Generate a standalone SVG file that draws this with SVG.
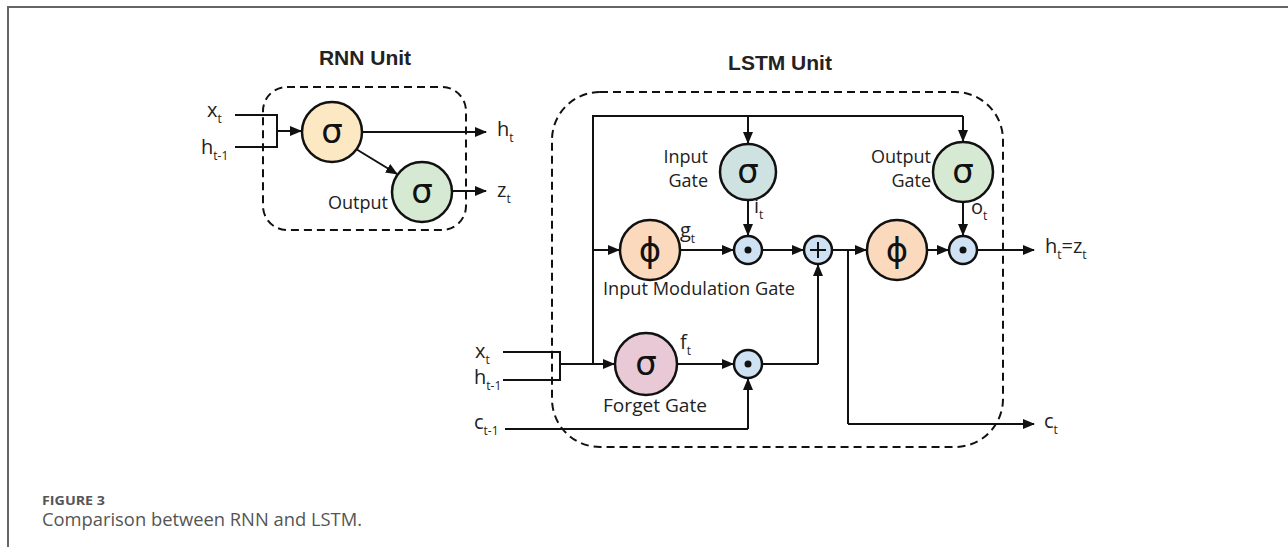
<svg xmlns="http://www.w3.org/2000/svg" width="1288" height="547" viewBox="0 0 1288 547">
<defs>
<marker id="ah" markerWidth="12" markerHeight="10" refX="11" refY="5" orient="auto" markerUnits="userSpaceOnUse">
<path d="M0,0 L12,5 L0,10 Z" fill="#111"/>
</marker>
<style>
.ln{fill:none;stroke:#111;stroke-width:2}
.ar{fill:none;stroke:#111;stroke-width:2;marker-end:url(#ah)}
.dash{fill:none;stroke:#111;stroke-width:2;stroke-dasharray:8 5}
.nd{stroke:#111;stroke-width:2.5}
.t{font-family:"Open Sans","DejaVu Sans",sans-serif;fill:#222;font-size:18px}
.v{font-family:"Open Sans","DejaVu Sans",sans-serif;fill:#222;font-size:20px}
.sb{font-size:12px}
.sym{font-family:"DejaVu Sans",sans-serif;fill:#111;font-size:34px;text-anchor:middle}
.ttl{font-family:"Liberation Sans",Arial,sans-serif;font-weight:bold;font-size:21px;fill:#222;text-anchor:middle}
</style>
</defs>
<rect width="1288" height="547" fill="#fff"/>
<path d="M8,547 V7 H1288" fill="none" stroke="#666" stroke-width="2"/>

<text class="ttl" x="365" y="65">RNN Unit</text>
<text class="ttl" x="780" y="70">LSTM Unit</text>

<g id="frames">
<rect class="dash" x="263" y="87" width="203" height="143" rx="24"/>
<rect class="dash" x="552" y="92" width="451" height="355" rx="48"/>
</g>

<g id="connectors">
<!-- RNN -->
<path class="ln" d="M235,115 H277 V147 H235"/>
<path class="ar" d="M277,131 H301"/>
<path class="ar" d="M362,132 H486"/>
<path class="ar" d="M356,149 L397,174"/>
<path class="ar" d="M452,191 H486"/>
<!-- LSTM -->
<path class="ln" d="M503,352 H560 V380 H503"/>
<path class="ar" d="M560,364 H614"/>
<path class="ln" d="M593,364 V116 H963"/>
<path class="ar" d="M963,116 V141"/>
<path class="ar" d="M748,116 V143"/>
<path class="ar" d="M593,250 H619"/>
<path class="ar" d="M680,250 H733"/>
<path class="ar" d="M748,200 V235"/>
<path class="ar" d="M762,250 H803"/>
<path class="ar" d="M832,250 H866"/>
<path class="ln" d="M848,250 V424"/>
<path class="ar" d="M848,424 H1034"/>
<path class="ar" d="M927,250 H948"/>
<path class="ar" d="M963,202 V235"/>
<path class="ar" d="M977,250 H1034"/>
<path class="ar" d="M677,364 H733"/>
<path class="ln" d="M762,364 H818"/>
<path class="ar" d="M818,364 V265"/>
<path class="ln" d="M505,429 H748"/>
<path class="ar" d="M748,429 V379"/>
</g>

<g id="rnn-sigma">
<circle class="nd" cx="332" cy="132" r="30" fill="#fde8c4"/>
<text class="sym" x="332" y="143">σ</text>
</g>
<g id="rnn-output">
<circle class="nd" cx="422" cy="192" r="30" fill="#d6e9d2"/>
<text class="sym" x="422" y="203">σ</text>
<text class="t" x="388" y="209" text-anchor="end">Output</text>
</g>

<g id="input-gate">
<circle class="nd" cx="748" cy="172" r="28" fill="#cfe2e2"/>
<text class="sym" x="748" y="183">σ</text>
<text class="t" x="708" y="163" text-anchor="end">Input</text>
<text class="t" x="708" y="187" text-anchor="end">Gate</text>
</g>
<g id="output-gate">
<circle class="nd" cx="963" cy="172" r="30" fill="#d6e9d2"/>
<text class="sym" x="963" y="183">σ</text>
<text class="t" x="931" y="163" text-anchor="end">Output</text>
<text class="t" x="931" y="187" text-anchor="end">Gate</text>
</g>
<g id="input-modulation">
<circle class="nd" cx="650" cy="250" r="30" fill="#fbd9bd"/>
<text class="sym" x="650" y="262">ϕ</text>
<text class="t" x="603" y="295" textLength="192" lengthAdjust="spacingAndGlyphs">Input Modulation Gate</text>
</g>
<g id="mult-input">
<circle class="nd" cx="748" cy="250" r="14" fill="#cfe2f3"/>
<circle cx="748" cy="250" r="3.5" fill="#111"/>
</g>
<g id="plus">
<circle class="nd" cx="818" cy="250" r="14" fill="#cfe2f3"/>
<path class="ln" d="M810,250 H826 M818,242 V258"/>
</g>
<g id="tanh-out">
<circle class="nd" cx="897" cy="250" r="30" fill="#fbd9bd"/>
<text class="sym" x="897" y="262">ϕ</text>
</g>
<g id="mult-output">
<circle class="nd" cx="963" cy="250" r="14" fill="#cfe2f3"/>
<circle cx="963" cy="250" r="3.5" fill="#111"/>
</g>
<g id="forget-gate">
<circle class="nd" cx="646" cy="364" r="31" fill="#eac9d7"/>
<text class="sym" x="646" y="375">σ</text>
<text class="t" x="603" y="412" textLength="104" lengthAdjust="spacingAndGlyphs">Forget Gate</text>
</g>
<g id="mult-forget">
<circle class="nd" cx="748" cy="364" r="14" fill="#cfe2f3"/>
<circle cx="748" cy="364" r="3.5" fill="#111"/>
</g>

<g id="labels">
<text class="v" x="207" y="117">x<tspan class="sb" dy="6">t</tspan></text>
<text class="v" x="201" y="154">h<tspan class="sb" dy="6">t-1</tspan></text>
<text class="v" x="497" y="136">h<tspan class="sb" dy="6">t</tspan></text>
<text class="v" x="497" y="197">z<tspan class="sb" dy="6">t</tspan></text>
<text class="v" x="475" y="358">x<tspan class="sb" dy="6">t</tspan></text>
<text class="v" x="474" y="384">h<tspan class="sb" dy="6">t-1</tspan></text>
<text class="v" x="474" y="429">c<tspan class="sb" dy="6">t-1</tspan></text>
<text class="v" x="1045" y="253">h<tspan class="sb" dy="6">t</tspan><tspan dy="-6">=z</tspan><tspan class="sb" dy="6">t</tspan></text>
<text class="v" x="1044" y="428">c<tspan class="sb" dy="6">t</tspan></text>
<text class="v" x="680" y="237">g<tspan class="sb" dy="6">t</tspan></text>
<text class="v" x="754" y="213">i<tspan class="sb" dy="6">t</tspan></text>
<text class="v" x="971" y="214">o<tspan class="sb" dy="6">t</tspan></text>
<text class="v" x="680" y="349">f<tspan class="sb" dy="6">t</tspan></text>
</g>

<text x="42" y="505" font-family="Open Sans, Lato, sans-serif" font-weight="bold" font-size="13" fill="#555" textLength="63" lengthAdjust="spacingAndGlyphs">FIGURE 3</text>
<text x="42" y="526" font-family="Open Sans, Lato, sans-serif" font-size="18" fill="#555" textLength="320" lengthAdjust="spacingAndGlyphs">Comparison between RNN and LSTM.</text>
</svg>
